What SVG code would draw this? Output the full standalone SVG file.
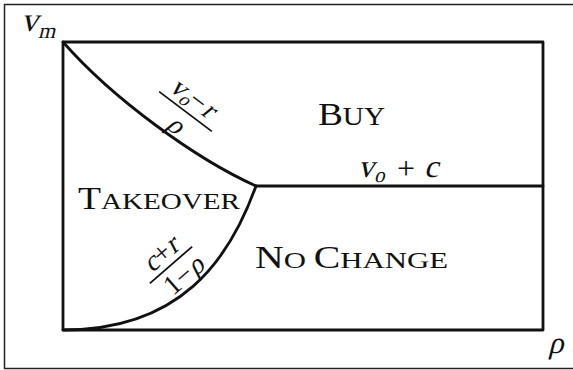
<svg xmlns="http://www.w3.org/2000/svg" width="573" height="370" viewBox="0 0 573 370" font-family="Liberation Serif">
<style>
.frame{fill:none;stroke:#222;stroke-width:1.5}
.ln{fill:none;stroke:#111;stroke-width:2.8;stroke-linecap:round;stroke-linejoin:round}
.fl{stroke:#111;stroke-width:1.8}
</style>
<rect width="573" height="370" fill="#fff"/>
<path class="frame" d="M575,4.5 H4.5 V368.5 H575"/>
<g id="connectors">
<path class="ln" d="M63,42 H543 V330 H63 Z"/>
<path class="ln" d="M256,186 H543"/>
<path class="ln" d="M63,42 C113,99 196,159 256,186"/>
<path class="ln" d="M256,186 C229,261 180,330 63,330"/>
</g>
<g id="vm">
<text font-family="Liberation Serif" fill="#111" transform="translate(21,31) skewX(-14)" font-size="34">v</text>
<text font-family="Liberation Serif" fill="#111" transform="translate(38,38) skewX(-14)" font-size="22">m</text>
</g>
<g id="rho">
<text font-family="Liberation Serif" fill="#111" transform="translate(548,353) skewX(-14)" font-size="31">ρ</text>
</g>
<g id="buy">
<text font-family="Liberation Serif" fill="#111" x="318" y="125" textLength="67" lengthAdjust="spacingAndGlyphs"><tspan font-size="32">B</tspan><tspan font-size="25">UY</tspan></text>
</g>
<g id="takeover">
<text font-family="Liberation Serif" fill="#111" x="78" y="209" textLength="162" lengthAdjust="spacingAndGlyphs"><tspan font-size="31">T</tspan><tspan font-size="24">AKEOVER</tspan></text>
</g>
<g id="nochange">
<text font-family="Liberation Serif" fill="#111" x="255" y="268" textLength="193" lengthAdjust="spacingAndGlyphs"><tspan font-size="31">N</tspan><tspan font-size="24">O </tspan><tspan font-size="31">C</tspan><tspan font-size="24">HANGE</tspan></text>
</g>
<g id="voc">
<text font-family="Liberation Serif" fill="#111" transform="translate(358,177) skewX(-14)" font-size="32">v</text>
<text font-family="Liberation Serif" fill="#111" transform="translate(374,182) skewX(-14)" font-size="21">o</text>
<text font-family="Liberation Serif" fill="#111" x="406" y="179" font-size="32" text-anchor="middle">+</text>
<text font-family="Liberation Serif" fill="#111" transform="translate(424,177) skewX(-14)" font-size="32">c</text>
</g>
<g id="frac1" transform="translate(185.5,111.5) rotate(37)">
<line class="fl" x1="-33" y1="0" x2="33" y2="0"/>
<text font-family="Liberation Serif" fill="#111" transform="translate(-27,-7) skewX(-14)" font-size="28">v</text>
<text font-family="Liberation Serif" fill="#111" transform="translate(-13,-3) skewX(-14)" font-size="19">o</text>
<text font-family="Liberation Serif" fill="#111" x="-4" y="-7" font-size="28">−</text>
<text font-family="Liberation Serif" fill="#111" transform="translate(13,-7) skewX(-14)" font-size="28">r</text>
<text font-family="Liberation Serif" fill="#111" transform="translate(-7,25) skewX(-14)" font-size="28">ρ</text>
</g>
<g id="frac2" transform="translate(171,265) rotate(-41)">
<line class="fl" x1="-28" y1="0" x2="28" y2="0"/>
<text font-family="Liberation Serif" fill="#111" transform="translate(-20,-6) skewX(-14)" font-size="28">c</text>
<text font-family="Liberation Serif" fill="#111" x="-7" y="-6" font-size="28">+</text>
<text font-family="Liberation Serif" fill="#111" transform="translate(9,-6) skewX(-14)" font-size="28">r</text>
<text font-family="Liberation Serif" fill="#111" x="-19" y="25" font-size="28">1−</text>
<text font-family="Liberation Serif" fill="#111" transform="translate(11,25) skewX(-14)" font-size="28">ρ</text>
</g>
</svg>
